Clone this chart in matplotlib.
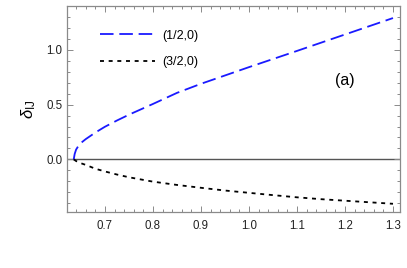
import matplotlib
matplotlib.use("Agg")
import matplotlib.pyplot as plt
from matplotlib.ticker import MultipleLocator

# data
x_vals = [0.635, 0.637, 0.640, 0.645, 0.650, 0.660, 0.680, 0.700, 0.725, 0.750,
          0.800, 0.850, 0.900, 0.950, 1.000, 1.050, 1.100, 1.150, 1.200, 1.250, 1.300]
delta_half = [0.0, 0.05, 0.09, 0.125, 0.15, 0.185, 0.245, 0.298, 0.355, 0.408,
              0.506, 0.607, 0.690, 0.766, 0.842, 0.916, 0.99, 1.065, 1.14, 1.215, 1.29]
delta_three_half = [0.0, -0.006, -0.015, -0.025, -0.035, -0.05, -0.085, -0.11, -0.138, -0.163,
                    -0.203, -0.233, -0.259, -0.284, -0.305, -0.326, -0.346, -0.363, -0.377, -0.391, -0.405]
labels = ["(1/2,0)", "(3/2,0)"]
panel = "(a)"

plt.rcParams['font.family'] = ['Liberation Sans', 'DejaVu Sans']
plt.rcParams['mathtext.fontset'] = 'custom'
plt.rcParams['mathtext.rm'] = 'Liberation Sans'
plt.rcParams['mathtext.it'] = 'Liberation Sans:italic'

fig = plt.figure(figsize=(4.07, 2.68), dpi=100)
ax = fig.add_axes([67/407, 1-212/268, 333/407, 206/268])

frame_col = '#8a8a8a'
ax.axhline(0, color='#555555', lw=1.0, zorder=1)
ax.plot(x_vals, delta_half, color='#1a1aff', lw=1.3, dashes=(7.5, 3.2), label=labels[0], zorder=3)
ax.plot(x_vals, delta_three_half, color='black', lw=1.3, dashes=(2.2, 2.6), label=labels[1], zorder=3)

ax.set_xlim(0.621, 1.3146)
ax.set_ylim(-0.48, 1.40)
ax.xaxis.set_major_locator(MultipleLocator(0.1))
ax.xaxis.set_minor_locator(MultipleLocator(0.02))
ax.yaxis.set_major_locator(MultipleLocator(0.5))
ax.yaxis.set_minor_locator(MultipleLocator(0.1))
ax.tick_params(which='both', direction='in', top=True, right=True, color=frame_col,
               labelsize=8.3, labelcolor='#222222', width=0.7)
ax.tick_params(which='major', length=4)
ax.tick_params(which='minor', length=2.2)
ax.tick_params(axis='x', pad=6)
for s in ax.spines.values():
    s.set_color(frame_col)
    s.set_linewidth(0.9)

ax.set_ylabel(r'$\delta_{\rm IJ}$', fontsize=12, labelpad=6)

leg = ax.legend(loc='upper left', bbox_to_anchor=(0.099, 0.885), frameon=False,
                fontsize=9, handlelength=4.4, handletextpad=0.56, labelspacing=1.15,
                borderpad=0, borderaxespad=0)

ax.text(0.835, 0.64, panel, transform=ax.transAxes, fontsize=11.5, ha='center', va='center')

fig.savefig('out.png', dpi=100)
